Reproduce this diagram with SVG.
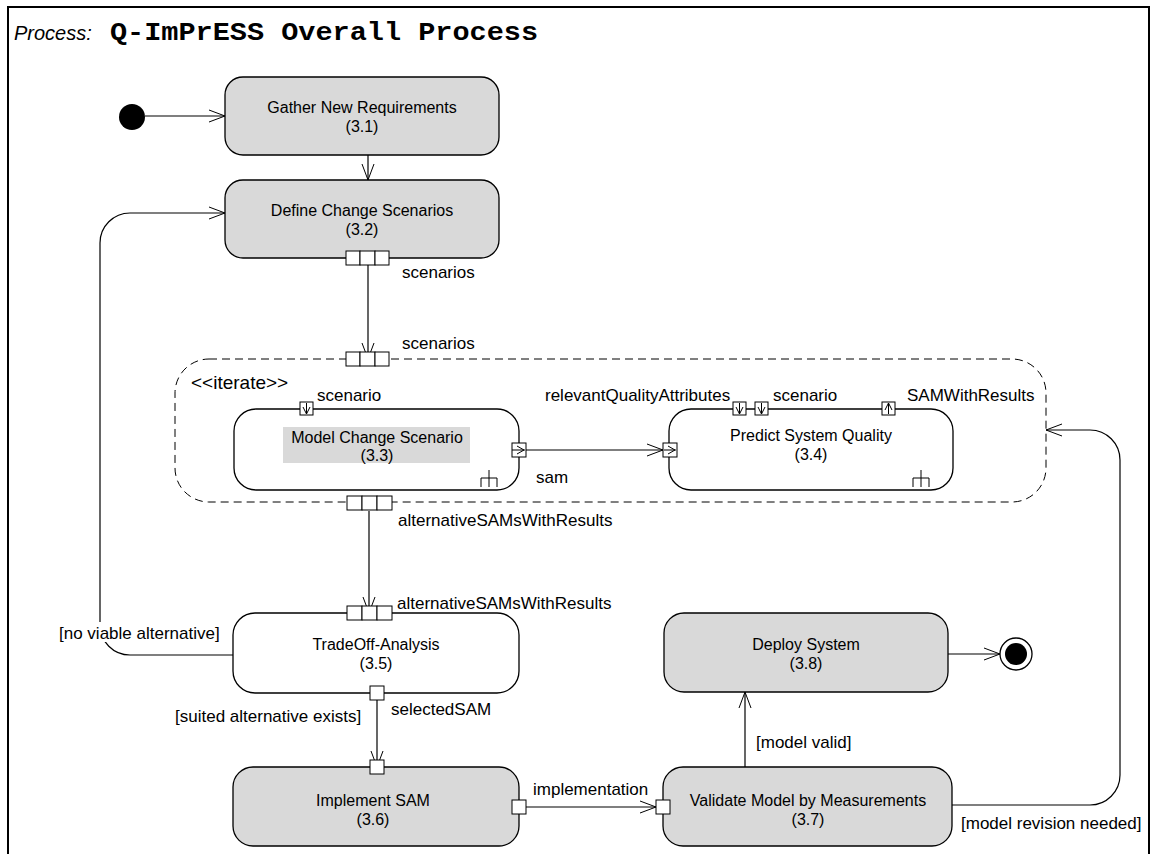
<svg xmlns="http://www.w3.org/2000/svg" width="1153" height="854" viewBox="0 0 1153 854">
<defs>
<marker id="arr" markerUnits="userSpaceOnUse" markerWidth="18" markerHeight="14" refX="17" refY="7" orient="auto">
<path d="M1,1 L17,7 L1,13" fill="none" stroke="#000" stroke-width="1"/>
</marker>
<style>
.t{font-family:"Liberation Sans",Arial,sans-serif;font-size:16px;fill:#000}
.l{font-family:"Liberation Sans",Arial,sans-serif;font-size:17px;fill:#000}
.c{text-anchor:middle}
.act{fill:#d9d9d9;stroke:#000;stroke-width:1.3}
.actw{fill:#fff;stroke:#000;stroke-width:1.3}
.pin{fill:#fff;stroke:#000;stroke-width:1}
.ln{fill:none;stroke:#000;stroke-width:1.2}
.sym{fill:none;stroke:#000;stroke-width:1}
</style>
</defs>
<rect width="1153" height="854" fill="#fff"/>
<g id="frame">
<path d="M8,860 V7 H1149 V860" fill="none" stroke="#000" stroke-width="2"/>
<text x="14" y="40" font-family="Liberation Sans,Arial,sans-serif" font-size="20" font-style="italic">Process:</text>
<text x="110" y="40" font-family="Liberation Mono,Courier New,monospace" font-size="25" font-weight="bold" textLength="428" lengthAdjust="spacingAndGlyphs">Q-ImPrESS Overall Process</text>
</g>
<g id="connectors">
<line class="ln" x1="145" y1="116" x2="225" y2="116" marker-end="url(#arr)"/>
<line class="ln" x1="368" y1="155" x2="368" y2="180" marker-end="url(#arr)"/>
<line class="ln" x1="368" y1="265" x2="368" y2="359" marker-end="url(#arr)"/>
<line class="ln" x1="369" y1="511" x2="369" y2="613" marker-end="url(#arr)"/>
<line class="ln" x1="526" y1="450" x2="663" y2="450" marker-end="url(#arr)"/>
<path class="ln" d="M233,655 H130 A30,30 0 0 1 100,625 V243 A30,30 0 0 1 130,213 H225" marker-end="url(#arr)"/>
<line class="ln" x1="377" y1="700" x2="377" y2="767" marker-end="url(#arr)"/>
<line class="ln" x1="526" y1="807" x2="656" y2="807" marker-end="url(#arr)"/>
<line class="ln" x1="745" y1="767" x2="745" y2="692" marker-end="url(#arr)"/>
<line class="ln" x1="948" y1="654" x2="1000" y2="654" marker-end="url(#arr)"/>
<path class="ln" d="M952,805 H1090 A30,30 0 0 0 1120,775 V460 A30,30 0 0 0 1090,430 H1046" marker-end="url(#arr)"/>
</g>
<g id="initial"><circle cx="132" cy="117" r="13" fill="#000"/></g>
<g id="n31">
<rect class="act" x="225" y="77" width="274" height="78" rx="18"/>
<text class="t c" x="362" y="113">Gather New Requirements</text>
<text class="t c" x="362" y="132">(3.1)</text>
</g>
<g id="n32">
<rect class="act" x="225" y="180" width="274" height="78" rx="18"/>
<text class="t c" x="362" y="216">Define Change Scenarios</text>
<text class="t c" x="362" y="235">(3.2)</text>
<rect class="pin" x="346" y="251" width="14" height="14"/>
<rect class="pin" x="360" y="251" width="15" height="14"/>
<rect class="pin" x="375" y="251" width="14" height="14"/>
<text class="l" x="402" y="278">scenarios</text>
</g>
<g id="iterate">
<rect x="175" y="359" width="871" height="143" rx="34" fill="none" stroke="#000" stroke-width="1" stroke-dasharray="8,5"/>
<rect class="pin" x="346" y="352" width="14" height="14"/>
<rect class="pin" x="360" y="352" width="15" height="14"/>
<rect class="pin" x="375" y="352" width="14" height="14"/>
<text class="l" x="402" y="349">scenarios</text>
<text x="191" y="389" font-family="Liberation Sans,Arial,sans-serif" font-size="19">&lt;&lt;iterate&gt;&gt;</text>
<rect class="pin" x="347" y="496" width="15" height="14"/>
<rect class="pin" x="362" y="496" width="15" height="14"/>
<rect class="pin" x="377" y="496" width="15" height="14"/>
<text class="l" x="398" y="526">alternativeSAMsWithResults</text>
</g>
<g id="n33">
<rect class="actw" x="234" y="409" width="285" height="81" rx="22"/>
<rect x="283" y="427" width="187" height="36" fill="#d9d9d9"/>
<text class="t c" x="377" y="443">Model Change Scenario</text>
<text class="t c" x="377" y="461">(3.3)</text>
<rect class="pin" x="300" y="402" width="13" height="13"/>
<path class="sym" d="M306.5,403 V414 M303,407 L306.5,414 L310,407"/>
<text class="l" x="317" y="401">scenario</text>
<path class="sym" d="M481,487 V478 H497 V487 M489,470 V487"/>
<rect class="pin" x="512" y="443" width="14" height="14"/>
<path class="sym" d="M512,450 H525 M517,446 L524,450 L517,454"/>
<text class="l" x="536" y="483">sam</text>
</g>
<g id="n34">
<rect class="actw" x="669" y="409" width="284" height="81" rx="22"/>
<text class="t c" x="811" y="441">Predict System Quality</text>
<text class="t c" x="811" y="460">(3.4)</text>
<rect class="pin" x="663" y="443" width="14" height="14"/>
<path class="sym" d="M664,450 H676 M668,446 L675,450 L668,454"/>
<rect class="pin" x="733" y="402" width="13" height="13"/>
<path class="sym" d="M739.5,403 V414 M736,407 L739.5,414 L743,407"/>
<rect class="pin" x="755" y="402" width="13" height="13"/>
<path class="sym" d="M761.5,403 V414 M758,407 L761.5,414 L765,407"/>
<rect class="pin" x="882" y="402" width="13" height="13"/>
<path class="sym" d="M888.5,403 V414 M885,410 L888.5,403 L892,410"/>
<text class="l" x="545" y="401">relevantQualityAttributes</text>
<text class="l" x="773" y="401">scenario</text>
<text class="l" x="907" y="401">SAMWithResults</text>
<path class="sym" d="M913,487 V478 H929 V487 M921,470 V487"/>
</g>
<g id="n35">
<rect class="actw" x="233" y="613" width="286" height="80" rx="22"/>
<text class="t c" x="376" y="650">TradeOff-Analysis</text>
<text class="t c" x="376" y="669">(3.5)</text>
<rect class="pin" x="347" y="606" width="15" height="14"/>
<rect class="pin" x="362" y="606" width="15" height="14"/>
<rect class="pin" x="377" y="606" width="15" height="14"/>
<text class="l" x="397" y="609">alternativeSAMsWithResults</text>
<rect class="pin" x="370" y="686" width="14" height="14"/>
<text class="l" x="391" y="715">selectedSAM</text>
<rect x="58" y="622" width="170" height="20" fill="#fff"/>
<text class="l" x="59" y="639">[no viable alternative]</text>
<text class="l" x="175" y="722">[suited alternative exists]</text>
</g>
<g id="n36">
<rect class="act" x="233" y="767" width="286" height="79" rx="20"/>
<text class="t c" x="373" y="806">Implement SAM</text>
<text class="t c" x="373" y="825">(3.6)</text>
<rect class="pin" x="370" y="760" width="14" height="14"/>
<rect class="pin" x="512" y="800" width="14" height="14"/>
<text class="l" x="533" y="795">implementation</text>
</g>
<g id="n37">
<rect class="act" x="663" y="767" width="289" height="79" rx="20"/>
<text class="t c" x="808" y="806">Validate Model by Measurements</text>
<text class="t c" x="808" y="825">(3.7)</text>
<rect class="pin" x="656" y="800" width="14" height="14"/>
<text class="l" x="756" y="748">[model valid]</text>
<text class="l" x="961" y="829">[model revision needed]</text>
</g>
<g id="n38">
<rect class="act" x="664" y="613" width="284" height="79" rx="20"/>
<text class="t c" x="806" y="650">Deploy System</text>
<text class="t c" x="806" y="669">(3.8)</text>
</g>
<g id="final">
<circle cx="1016" cy="654" r="16" fill="#fff" stroke="#000" stroke-width="1.3"/>
<circle cx="1016" cy="654" r="11" fill="#000"/>
</g>
</svg>
